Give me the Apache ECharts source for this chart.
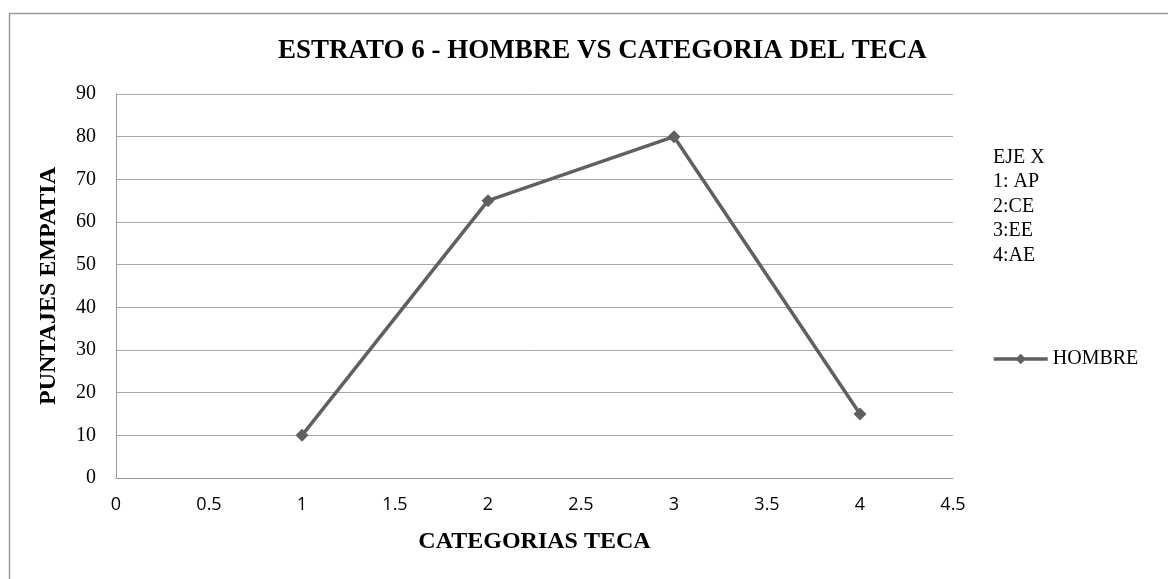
<!DOCTYPE html>
<html>
<head>
<meta charset="utf-8">
<script src="https://cdn.jsdelivr.net/npm/echarts@6/dist/echarts.min.js"></script>
<style>
  html, body { margin: 0; padding: 0; background: #fff; }
  #chart { width: 1168px; height: 579px; }
</style>
</head>
<body>
<div id="chart"></div>
<script>
// datos
var categorias = [1, 2, 3, 4];
var hombre = [10, 65, 80, 15];
var notaEje = ['EJE X', '1: AP', '2:CE', '3:EE', '4:AE'];

var serif = '"Liberation Serif", "DejaVu Serif", serif';
var lineColor = '#606060';

var puntos = categorias.map(function (c, i) { return [c, hombre[i]]; });

var chart = echarts.init(document.getElementById('chart'));
chart.setOption({
    animation: false,
    title: {
        text: 'ESTRATO 6 - HOMBRE VS CATEGORIA DEL TECA',
        left: 273,
        top: 33,
        textStyle: { fontFamily: serif, fontWeight: 'bold', fontSize: 27, color: '#000' }
    },
    grid: { left: 116, right: 215, top: 94, bottom: 101 },
    legend: {
        data: ['HOMBRE'],
        left: 987,
        top: 344,
        itemWidth: 54,
        itemHeight: 13,
        itemGap: 4,
        lineStyle: { width: 3.5, color: lineColor },
        textStyle: { fontFamily: serif, fontSize: 20, color: '#000' }
    },
    xAxis: {
        type: 'value',
        min: 0,
        max: 4.5,
        interval: 0.5,
        name: 'CATEGORIAS TECA',
        nameLocation: 'middle',
        nameGap: 52,
        nameTextStyle: { fontFamily: serif, fontWeight: 'bold', fontSize: 24, color: '#000' },
        axisLine: { lineStyle: { color: '#9a9a9a', width: 1 } },
        axisTick: { show: false },
        splitLine: { show: false },
        axisLabel: { fontFamily: '"Open Sans", "Liberation Sans", sans-serif', fontSize: 18, color: '#000', margin: 18 }
    },
    yAxis: {
        type: 'value',
        min: 0,
        max: 90,
        interval: 10,
        name: 'PUNTAJES EMPATIA',
        nameLocation: 'middle',
        nameGap: 55,
        nameTextStyle: { fontFamily: serif, fontWeight: 'bold', fontSize: 24, color: '#000' },
        axisLine: { show: true, lineStyle: { color: '#9a9a9a', width: 1 } },
        axisTick: { show: false },
        splitLine: { lineStyle: { color: '#a6a6a6', width: 1 } },
        axisLabel: { fontFamily: serif, fontSize: 20, color: '#000', margin: 20 }
    },
    series: [{
        name: 'HOMBRE',
        type: 'line',
        data: puntos,
        symbol: 'diamond',
        symbolSize: 13,
        lineStyle: { color: lineColor, width: 3.5 },
        itemStyle: { color: lineColor }
    }],
    graphic: [
        {
            type: 'rect',
            left: 7, top: 11,
            shape: { width: 1200, height: 620 },
            style: { fill: 'none', stroke: '#9a9a9a', lineWidth: 1.5 },
            silent: true
        },
        {
            type: 'text',
            left: 993, top: 145,
            style: {
                text: notaEje.join('\n'),
                font: '20px ' + serif,
                lineHeight: 24.5,
                fill: '#000'
            }
        }
    ]
});
</script>
</body>
</html>
